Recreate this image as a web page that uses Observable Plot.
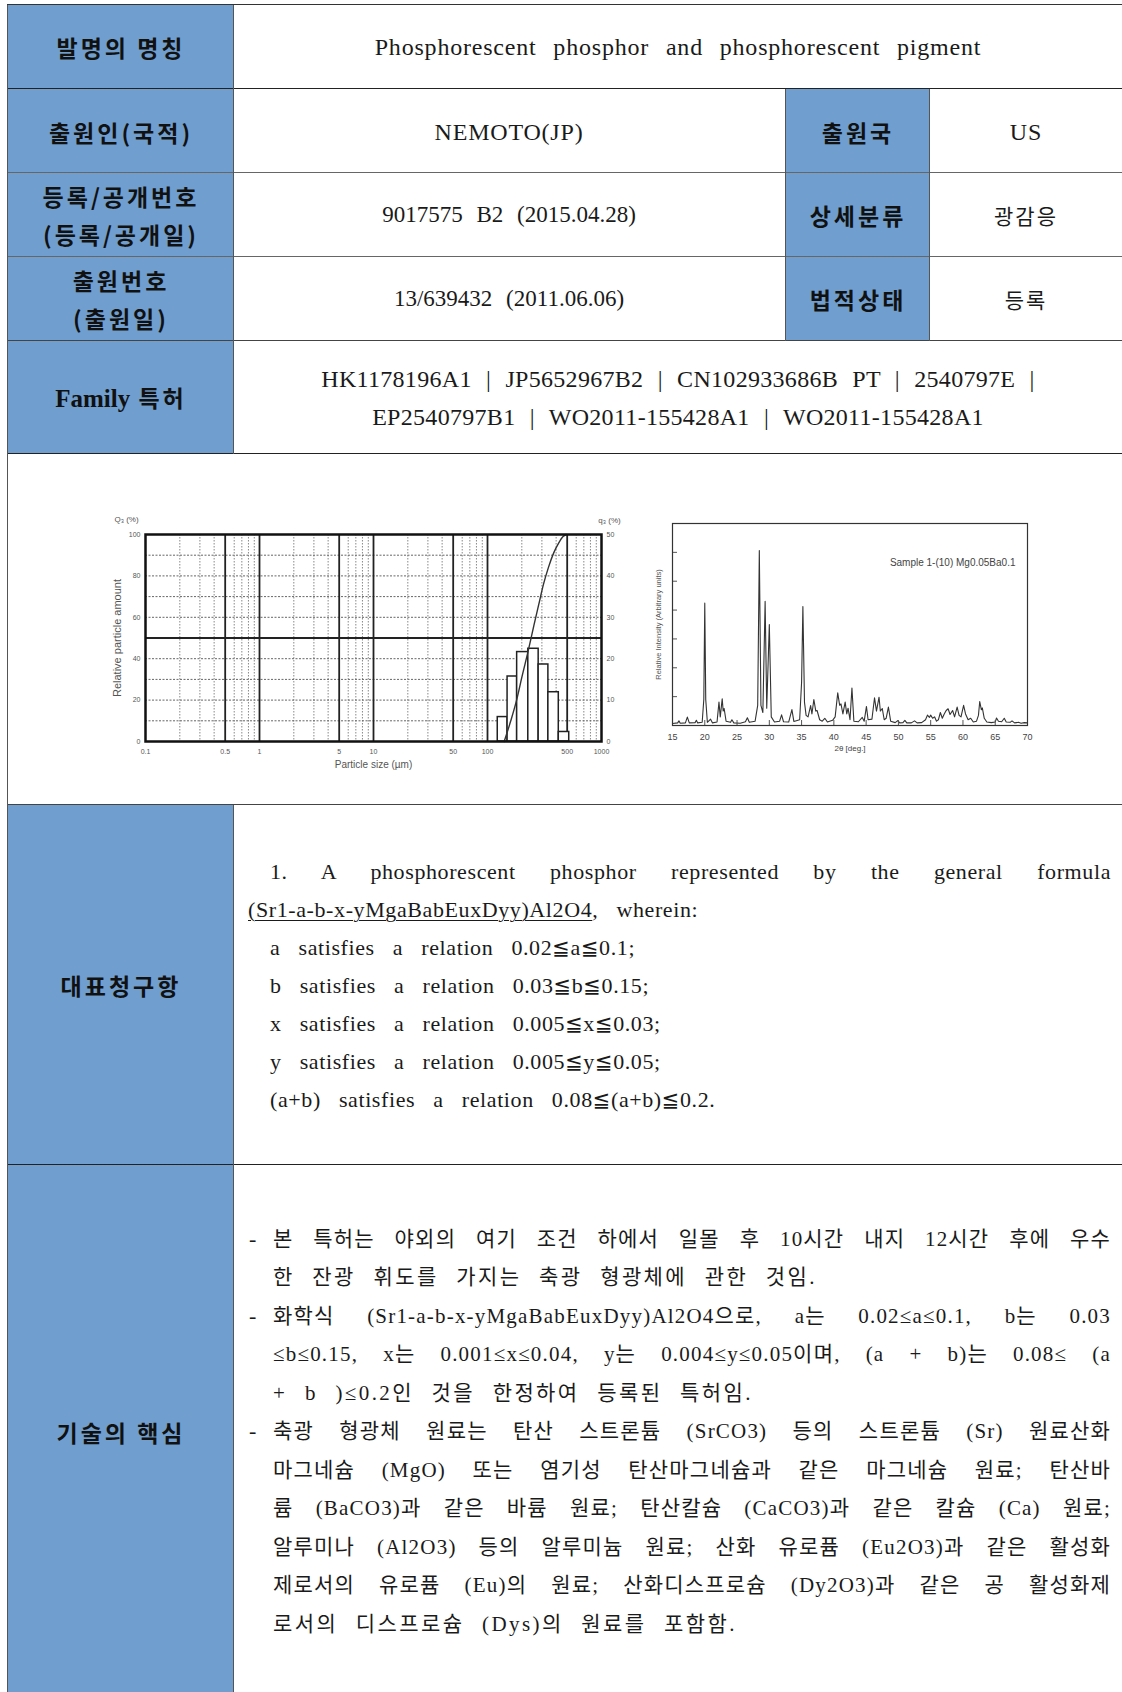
<!DOCTYPE html>
<html><head><meta charset="utf-8">
<script src="https://cdn.jsdelivr.net/npm/d3@7"></script>
<script src="https://cdn.jsdelivr.net/npm/@observablehq/plot@0.6"></script>
<style>
html,body{margin:0;padding:0;background:#fff;}
#page{position:relative;width:1122px;height:1692px;overflow:hidden;font-family:"Liberation Serif","Noto Sans CJK KR",serif;color:#1a1a1a;}
.abs{position:absolute;}
.blue{background:#6f9ecf;}
.hl{position:absolute;height:0;border-top:1.5px solid #333;}
.vl{position:absolute;width:0;border-left:1.5px solid #555;}
.lab{position:absolute;font-family:"Noto Sans CJK KR",sans-serif;font-weight:700;font-size:23px;letter-spacing:3px;color:#111;text-align:center;line-height:38px;white-space:nowrap;transform:translate(-50%,-50%);}
.lab .ser{font-family:"Liberation Serif",serif;font-weight:700;letter-spacing:0;font-size:25px;}
.val{position:absolute;font-size:24px;letter-spacing:0.8px;word-spacing:10px;text-align:center;line-height:38px;white-space:nowrap;transform:translate(-50%,-50%);}
.ln{position:absolute;font-size:22px;line-height:38px;height:38px;white-space:nowrap;letter-spacing:0.6px;word-spacing:12px;}
.j{text-align:justify;text-align-last:justify;}
.u{text-decoration:underline;text-underline-offset:3px;text-decoration-thickness:1px;}
.op{font-family:"DejaVu Sans",sans-serif;font-size:21px;}
</style></head><body><div id="page"></div>
<script>
// ---------- table text ----------
const titleText = "Phosphorescent phosphor and phosphorescent pigment";
const applicant = "NEMOTO(JP)";
const country = "US";
const regNumber = "9017575 B2 (2015.04.28)";
const category = "광감응";
const appNumber = "13/639432 (2011.06.06)";
const legalStatus = "등록";
const familyLine1 = "HK1178196A1 | JP5652967B2 | CN102933686B PT | 2540797E |";
const familyLine2 = "EP2540797B1 | WO2011-155428A1 | WO2011-155428A1";
const claimLines = [
  "1. A phosphorescent phosphor represented by the general formula",
  "<span class='u'>(Sr1-a-b-x-yMgaBabEuxDyy)Al2O4</span>, wherein:",
  "a satisfies a relation 0.02≦a≦0.1;",
  "b satisfies a relation 0.03≦b≦0.15;",
  "x satisfies a relation 0.005≦x≦0.03;",
  "y satisfies a relation 0.005≦y≦0.05;",
  "(a+b) satisfies a relation 0.08≦(a+b)≦0.2."
];
const coreLines = [
  "본 특허는 야외의 여기 조건 하에서 일몰 후 10시간 내지 12시간 후에 우수",
  "한 잔광 휘도를 가지는 축광 형광체에 관한 것임.",
  "화학식 (Sr1-a-b-x-yMgaBabEuxDyy)Al2O4으로, a는 0.02≤a≤0.1, b는 0.03",
  "≤b≤0.15, x는 0.001≤x≤0.04, y는 0.004≤y≤0.05이며, (a + b)는 0.08≤ (a",
  "+ b )≤0.2인 것을 한정하여 등록된 특허임.",
  "축광 형광체 원료는 탄산 스트론튬 (SrCO3) 등의 스트론튬 (Sr) 원료산화",
  "마그네슘 (MgO) 또는 염기성 탄산마그네슘과 같은 마그네슘 원료; 탄산바",
  "륨 (BaCO3)과 같은 바륨 원료; 탄산칼슘 (CaCO3)과 같은 칼슘 (Ca) 원료;",
  "알루미나 (Al2O3) 등의 알루미늄 원료; 산화 유로퓸 (Eu2O3)과 같은 활성화",
  "제로서의 유로퓸 (Eu)의 원료; 산화디스프로슘 (Dy2O3)과 같은 공 활성화제",
  "로서의 디스프로슘 (Dys)의 원료를 포함함."
];
const coreBullets = [0, 2, 5];
const coreLast = [1, 4, 10];

// ---------- particle size distribution ----------
const psdBinEdges = [123, 150, 182, 228, 281, 342, 422, 521];
const psdFrequency = [5.9, 15.7, 21.6, 22.4, 18.6, 11.9, 2.3];   // q3 (%)
const psdCurveSize = [140, 160, 180, 200, 228, 255, 281, 310, 342, 380, 422, 460, 490];
const psdCurveCum  = [0, 10, 20, 31, 44, 56, 66, 76, 84, 91, 96, 99, 100]; // Q3 (%)
const psdTickLabels = [0.1, 0.5, 1, 5, 10, 50, 100, 500, 1000];
const psdMajorGrid = [0.5, 1, 5, 10, 50, 100, 500];
const psdMinorGrid = [0.2,0.3,0.4,0.6,0.7,0.8,0.9,2,3,4,6,7,8,9,20,30,40,60,70,80,90,200,300,400,600,700,800,900];
const psdLeftTicks = [0, 20, 40, 60, 80, 100];
const psdHGrid = [10, 20, 30, 40, 60, 70, 80, 90];
const psdHMajor = [50];

// ---------- XRD pattern ----------
const xrdTicks = [15, 20, 25, 30, 35, 40, 45, 50, 55, 60, 65, 70];
const xrdYTicks = [1000, 2000, 3000, 4000, 5000, 6000];
const xrdPattern = [
[15,70],[15.8,90],[16.0,160],[16.2,80],[17.0,90],[17.3,290],[17.6,90],[18.5,100],[18.7,180],[18.9,90],
[19.6,110],[19.85,900],[20.0,4240],[20.15,900],[20.4,110],[20.9,220],[21.2,90],[21.9,120],[22.2,810],[22.4,300],
[22.7,925],[22.85,500],[23.0,590],[23.3,150],[24.0,110],[24.2,200],[24.5,90],[25.5,80],[26.3,130],[26.6,270],
[26.9,110],[27.8,150],[28.2,700],[28.45,6060],[28.7,700],[29.0,450],[29.35,4300],[29.6,600],[30.0,3500],[30.3,300],
[30.8,120],[31.6,150],[31.9,370],[32.2,130],[33.0,120],[33.5,550],[33.8,140],[34.7,200],[35.0,1500],[35.2,4120],
[35.45,800],[35.7,350],[36.0,300],[36.4,690],[36.6,400],[36.9,900],[37.2,500],[37.4,520],[37.8,200],[38.2,150],
[38.6,250],[39.0,120],[39.8,180],[40.2,300],[40.6,1130],[40.9,700],[41.1,750],[41.4,400],[41.75,810],[42.0,400],
[42.2,600],[42.5,200],[42.8,1300],[43.1,150],[43.8,130],[44.4,280],[44.7,150],[45.05,660],[45.3,200],[45.9,220],
[46.3,960],[46.6,500],[47.0,980],[47.2,500],[47.5,590],[47.8,200],[48.1,250],[48.45,640],[48.8,150],[49.5,100],
[49.9,170],[50.2,90],[50.7,100],[51.0,180],[51.3,90],[52.0,90],[52.5,160],[52.9,90],[53.6,100],[54.2,200],
[54.5,360],[54.8,280],[55.0,360],[55.3,250],[55.6,300],[55.9,150],[56.2,200],[56.5,450],[56.8,250],[57.1,400],
[57.4,520],[57.7,580],[58.0,380],[58.4,520],[58.7,300],[59.1,640],[59.4,350],[59.7,300],[60.1,700],[60.4,400],
[60.8,200],[61.2,250],[61.6,120],[62.1,150],[62.4,350],[62.6,830],[62.85,550],[63.0,610],[63.3,250],[63.7,120],
[64.4,100],[65.0,120],[65.2,260],[65.5,150],[66.0,130],[66.4,250],[66.7,120],[67.3,110],[67.6,160],[68.0,90],
[68.6,110],[69.0,80],[69.5,100],[70,90]
];
const xrdSampleLabel = "Sample 1-(10) Mg0.05Ba0.1";

// ---------- build page ----------
const page = document.getElementById("page");
function add(cls, style, html) {
  const d = document.createElement("div");
  d.className = cls;
  Object.assign(d.style, style);
  if (html != null) d.innerHTML = html;
  page.appendChild(d);
  return d;
}
const px = v => v + "px";

// blue label cells
add("abs blue", {left:px(7), top:px(5), width:px(226), height:px(449)});
add("abs blue", {left:px(7), top:px(805), width:px(226), height:px(887)});
add("abs blue", {left:px(785), top:px(89), width:px(144), height:px(252)});

// lines
[[5,"#333"],[89,"#222"],[173,"#666"],[257,"#666"],[341,"#444"],[454,"#222"],[805,"#444"],[1165,"#222"]].forEach(([y,c]) =>
  add("hl", {left:px(7), top:px(y - 0.75), width:px(1115), borderTopColor:c}));
add("vl", {left:px(6.5), top:px(5), height:px(1687)});
add("vl", {left:px(232.5), top:px(5), height:px(449)});
add("vl", {left:px(232.5), top:px(805), height:px(887)});
add("vl", {left:px(784.5), top:px(89), height:px(252)});
add("vl", {left:px(928.5), top:px(89), height:px(252)});

// labels
function lab(x, y, html) { add("lab", {left:px(x), top:px(y)}, html); }
lab(121, 47, "발명의 명칭");
lab(121, 132, "출원인(국적)");
lab(121, 215, "등록/공개번호<br>(등록/공개일)");
lab(121, 299, "출원번호<br>(출원일)");
lab(121, 398, "<span class='ser'>Family</span> 특허");
lab(121, 985, "대표청구항");
lab(121, 1432, "기술의 핵심");
lab(858, 132, "출원국");
lab(858, 215, "상세분류");
lab(858, 299, "법적상태");

function val(x, y, text, extra) { add("val", Object.assign({left:px(x), top:px(y)}, extra || {}), text); }
const numStyle = {letterSpacing:"0px", wordSpacing:"8px", fontSize:"23px"};
val(678, 47, titleText);
val(509, 132, applicant);
val(1026, 132, country);
val(509, 215, regNumber, numStyle);
val(1026, 215, category, {fontFamily:"Noto Sans CJK KR", fontSize:"21px", letterSpacing:"2px"});
val(509, 299, appNumber, numStyle);
val(1026, 299, legalStatus, {fontFamily:"Noto Sans CJK KR", fontSize:"21px", letterSpacing:"2px"});
val(678, 379, familyLine1, {letterSpacing:"0.3px", wordSpacing:"8px"});
val(678, 417, familyLine2, {letterSpacing:"0.3px", wordSpacing:"8px"});

// claims
const wrapOps = t => t.replace(/≦/g, "<span class='op'>≦</span>");
claimLines.forEach((t, i) => {
  const top = 871.7 - 19 + i * 38.1;
  const left = i === 1 ? 248 : 270;
  add("ln" + (i === 0 ? " j" : ""), {left:px(left), top:px(top), width:px(1111 - left)}, wrapOps(t));
});

// core technology
coreLines.forEach((t, i) => {
  const top = 1238.5 - 19 + i * 38.5;
  const last = coreLast.includes(i);
  if (coreBullets.includes(i)) add("ln", {left:px(249), top:px(top)}, "-");
  add("ln" + (last ? "" : " j"), {left:px(273), top:px(top), width:px(838), fontSize:"21px",
      letterSpacing: last ? "2.4px" : "1.2px", wordSpacing: last ? "10px" : "6px"}, t);
});

// ---------- charts ----------
const psdBins = psdFrequency.map((q, i) => ({lo: psdBinEdges[i], hi: psdBinEdges[i + 1], q}));
const psdCurve = psdCurveSize.map((s, i) => ({s, c: psdCurveCum[i]}));

const psd = Plot.plot({
  width: 546, height: 276,
  marginLeft: 50, marginRight: 40, marginTop: 34, marginBottom: 35,
  x: {type: "log", domain: [0.1, 1000], axis: null},
  y: {domain: [0, 100], axis: null},
  style: {fontFamily: "Liberation Sans, Arial, sans-serif", fontSize: "7px", color: "#555", background: "transparent"},
  marks: [
    Plot.ruleX(psdMinorGrid, {x: d => d, stroke: "#888", strokeWidth: 1, strokeDasharray: "1.5,1.5"}),
    Plot.ruleY(psdHGrid, {y: d => d, stroke: "#666", strokeWidth: 1, strokeDasharray: "2,1.5"}),
    Plot.ruleX(psdMajorGrid, {x: d => d, stroke: "#222", strokeWidth: 1.8}),
    Plot.ruleY(psdHMajor, {y: d => d, stroke: "#222", strokeWidth: 1.8}),
    Plot.rectY(psdBins, {x1: "lo", x2: "hi", y: d => d.q * 2, fill: "white", stroke: "#222", strokeWidth: 1.5}),
    Plot.line(psdCurve, {x: "s", y: "c", curve: "monotone-x", stroke: "#333", strokeWidth: 1.4}),
    Plot.frame({stroke: "#111", strokeWidth: 2.5}),
    Plot.text(psdTickLabels, {x: d => d, text: d => String(d), frameAnchor: "bottom", dy: 12, fontSize: 7, fill: "#555"}),
    Plot.text(psdLeftTicks, {y: d => d, text: d => String(d), frameAnchor: "left", textAnchor: "end", dx: -5, fontSize: 7, fill: "#555"}),
    Plot.text(psdLeftTicks, {y: d => d, text: d => String(d / 2), frameAnchor: "right", textAnchor: "start", dx: 5, fontSize: 7, fill: "#555"}),
    Plot.text(["Q₃ (%)"], {text: d => d, frameAnchor: "top-left", textAnchor: "middle", dx: -19, dy: -18, fontSize: 8, fill: "#555"}),
    Plot.text(["q₃ (%)"], {text: d => d, frameAnchor: "top-right", textAnchor: "middle", dx: 8, dy: -17, fontSize: 8, fill: "#555"}),
    Plot.text(["Relative particle amount"], {text: d => d, frameAnchor: "left", textAnchor: "middle", rotate: -90, dx: -28, fontSize: 11, fill: "#555"}),
    Plot.text(["Particle size (µm)"], {text: d => d, frameAnchor: "bottom", textAnchor: "middle", dy: 26, fontSize: 10, fill: "#555"})
  ]
});
const psdWrap = add("abs", {left: px(95), top: px(500)});
psdWrap.appendChild(psd);

const xrdData = xrdPattern.map(([a, v]) => ({a, v}));
const xrd = Plot.plot({
  width: 400, height: 250,
  marginLeft: 32, marginRight: 13, marginTop: 13, marginBottom: 35,
  x: {domain: [15, 70]},
  y: {domain: [0, 7000], axis: null},
  style: {fontFamily: "Liberation Sans, Arial, sans-serif", fontSize: "9px", color: "#444", background: "transparent"},
  marks: [
    Plot.line(xrdData, {x: "a", y: "v", stroke: "#333", strokeWidth: 1.1}),
    Plot.tickY(xrdYTicks, {y: d => d, insetRight: 350, stroke: "#555"}),
    Plot.tickX(xrdTicks, {x: d => d, insetTop: 197, stroke: "#555"}),
    Plot.frame({stroke: "#333", strokeWidth: 1.2}),
    Plot.axisX(xrdTicks, {tickSize: 0, tickPadding: 8, label: null}),
    Plot.text(["Relative Intensity (Arbitrary units)"], {text: d => d, frameAnchor: "left", textAnchor: "middle", rotate: -90, dx: -14, fontSize: 7.5, fill: "#555"}),
    Plot.text(["2θ [deg.]"], {text: d => d, frameAnchor: "bottom", textAnchor: "middle", dy: 25, fontSize: 8, fill: "#444"}),
    Plot.text([xrdSampleLabel], {text: d => d, frameAnchor: "top-right", textAnchor: "end", dx: -12, dy: 35, fontSize: 10, fill: "#444"})
  ]
});
const xrdWrap = add("abs", {left: px(640), top: px(510)});
xrdWrap.appendChild(xrd);
</script></body></html>
